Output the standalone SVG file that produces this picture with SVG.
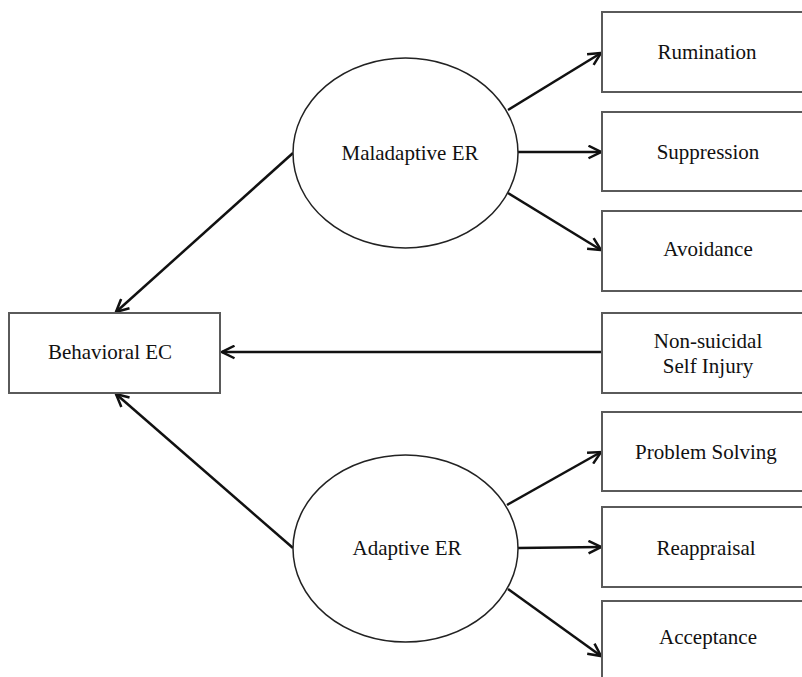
<svg xmlns="http://www.w3.org/2000/svg" width="802" height="677" viewBox="0 0 802 677">
<style>
.box{fill:#fff;stroke:#5a5a5a;stroke-width:2}
.ell{fill:#fff;stroke:#222;stroke-width:1.5}
.t{font-family:"Liberation Serif","Times New Roman",serif;font-size:21px;fill:#111;text-anchor:middle}
.c{stroke:#111;stroke-width:2.5;fill:none;marker-end:url(#ah)}
</style>
<defs>
<marker id="ah" viewBox="0 0 12 12" refX="11" refY="6" markerWidth="6" markerHeight="6" markerUnits="strokeWidth" orient="auto">
<path d="M1,1 L11,6 L1,11" fill="none" stroke="#111" stroke-width="2"/>
</marker>
</defs>
<rect width="802" height="677" fill="#fff"/>
<g id="connectors">
<line class="c" x1="508" y1="110" x2="601" y2="53"/>
<line class="c" x1="518" y1="152" x2="601" y2="152"/>
<line class="c" x1="508" y1="193" x2="601" y2="250"/>
<line class="c" x1="293" y1="153" x2="116" y2="312"/>
<line class="c" x1="602" y1="352" x2="222" y2="352"/>
<line class="c" x1="293" y1="548" x2="116" y2="394"/>
<line class="c" x1="507" y1="505" x2="601" y2="452"/>
<line class="c" x1="518" y1="548" x2="601" y2="547"/>
<line class="c" x1="508" y1="589" x2="601" y2="656"/>
</g>
<g id="maladaptive"><ellipse class="ell" cx="405.5" cy="153" rx="112.5" ry="95"/><text class="t" x="410" y="160">Maladaptive ER</text></g>
<g id="adaptive"><ellipse class="ell" cx="405.5" cy="548.5" rx="112.5" ry="93.5"/><text class="t" x="407" y="555">Adaptive ER</text></g>
<g id="behavioral"><rect class="box" x="9" y="313" width="211" height="80"/><text class="t" x="110" y="359">Behavioral EC</text></g>
<g id="rumination"><rect class="box" x="602" y="12" width="215" height="80"/><text class="t" x="707" y="59">Rumination</text></g>
<g id="suppression"><rect class="box" x="602" y="112" width="215" height="79"/><text class="t" x="708" y="159">Suppression</text></g>
<g id="avoidance"><rect class="box" x="602" y="211" width="215" height="80"/><text class="t" x="708" y="256">Avoidance</text></g>
<g id="nssi"><rect class="box" x="602" y="313" width="215" height="80"/><text class="t" x="708" y="348">Non-suicidal</text><text class="t" x="708" y="373">Self Injury</text></g>
<g id="problem"><rect class="box" x="602" y="412" width="215" height="79"/><text class="t" x="706" y="459">Problem Solving</text></g>
<g id="reappraisal"><rect class="box" x="602" y="507" width="215" height="80"/><text class="t" x="706" y="555">Reappraisal</text></g>
<g id="acceptance"><rect class="box" x="602" y="601" width="215" height="90"/><text class="t" x="708" y="644">Acceptance</text></g>
</svg>
